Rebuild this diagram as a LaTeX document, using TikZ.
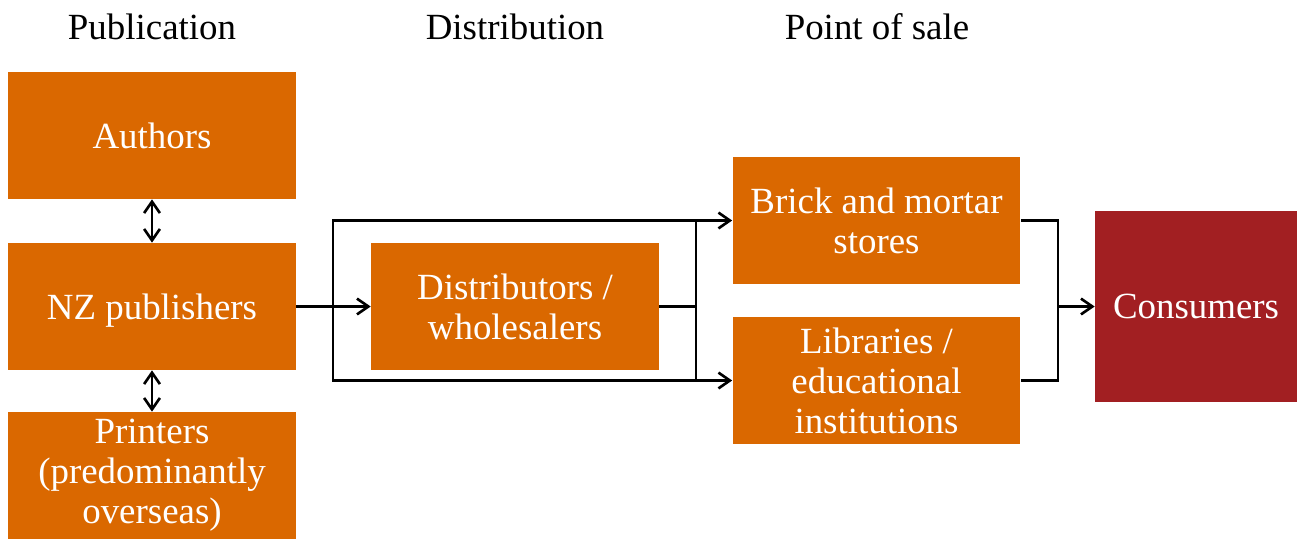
\documentclass[tikz,border=0pt]{standalone}
\usepackage{fontspec}
\setmainfont{Liberation Serif}
\usetikzlibrary{arrows.meta}
\definecolor{boxorange}{RGB}{218,104,0}
\definecolor{boxred}{RGB}{162,31,34}
\tikzset{
    stage/.style = {rectangle, fill=boxorange, text=white, align=center, inner sep=0pt,
                    minimum width=5.76cm, minimum height=2.54cm},
    endbox/.style = {rectangle, fill=boxred, text=white, align=center, inner sep=0pt,
                     minimum width=4.04cm, minimum height=3.82cm},
    head/.style = {anchor=base, text=black},
    line/.style = {line width=1.5pt, black, line join=miter},
    edgen/.style = {line, -{Straight Barb[length=6.5pt,width=9pt]}},
    edged/.style = {line, {Straight Barb[length=6.5pt,width=9pt]}-{Straight Barb[length=6.5pt,width=9pt]}},
    every picture/.style={font issue=\fontsize{21}{22.7}},
    font issue/.style={execute at begin picture={#1\selectfont}}
}
\begin{document}
\begin{tikzpicture}[x=0.02cm,y=-0.02cm]
\useasboundingbox (0,0) rectangle (1297,538);
\node[head] at (152,39) (h1) {Publication};
\node[head] at (515,39) (h2) {Distribution};
\node[head] at (877,39) (h3) {Point of sale};
%
\node[stage] at (152,135.5) (auth) {Authors};
\node[stage, text depth=0pt] at (152,306.5) (nz) {NZ publishers};
\node[stage] at (152,475.5) (print) {Printers\\(predominantly\\overseas)};
\node[stage] at (515,306.5) (dist) {Distributors /\\wholesalers};
\node[stage] at (876.5,220.5) (brick) {Brick and mortar\\stores};
\node[stage] at (876.5,380.5) (libs) {Libraries /\\educational\\institutions};
\node[endbox] at (1196,306.5) (cons) {Consumers};
%
\coordinate (sL) at (333,306.5);
\coordinate (sR) at (696,306.5);
\coordinate (jn) at (1058,306.5);
%
\draw[edged] (auth) -- (nz);
\draw[edged] (nz) -- (print);
\draw[edgen] (nz) -- (dist);
\draw[edgen] (sL) |- (brick.west);
\draw[edgen] (sL) |- (libs.west);
\draw[line] (dist) -- (sR);
\draw[line] (sR |- brick.west) -- (sR |- libs.west);
\draw[line] (brick.east) -| (jn);
\draw[line] (libs.east) -| (jn);
\draw[edgen] (jn) -- (cons);

\end{tikzpicture}
\end{document}
